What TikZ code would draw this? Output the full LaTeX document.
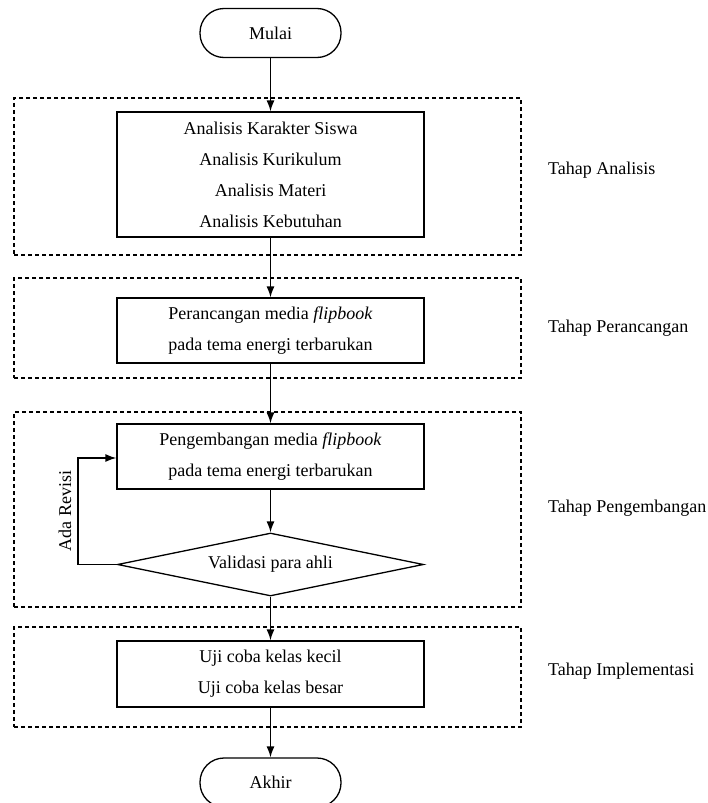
\documentclass[tikz,border=0pt]{standalone}
\usepackage{fontspec}
\setmainfont{Liberation Serif}
\usetikzlibrary{arrows.meta,shapes.geometric}
\begin{document}
\begin{tikzpicture}[x=1pt,y=-1pt,
  txt/.style={font=\fontsize{18}{31}\selectfont},
  procbox/.style={draw,line width=1.3pt,minimum width=307pt,inner sep=0pt,align=center,txt},
  termbox/.style={draw,line width=1.3pt,rounded corners=24pt,minimum width=141pt,minimum height=49pt,inner sep=0pt,txt},
  phasebox/.style={draw,line width=1.2pt,dash pattern=on 4pt off 3pt,minimum width=507pt,inner sep=0pt},
  phaselabel/.style={anchor=west,inner sep=0pt,txt},
  flow/.style={line width=1.4pt,-{Latex[length=11pt,width=8pt]}}]
\useasboundingbox (0,0) rectangle (708,803);
% phase frames
\node[phasebox,minimum height=157pt] (p1) at (267.5,176.5) {};
\node[phasebox,minimum height=100pt] (p2) at (267.5,328) {};
\node[phasebox,minimum height=195pt] (p3) at (267.5,509.5) {};
\node[phasebox,minimum height=100pt] (p4) at (267.5,677) {};
% terminals
\node[termbox] (start) at (270.5,33) {Mulai};
\node[termbox] (end) at (270.5,782.5) {Akhir};
% process boxes
\node[procbox,minimum height=125pt] (b1) at (270.5,174.5) {Analisis Karakter Siswa\\Analisis Kurikulum\\Analisis Materi\\Analisis Kebutuhan};
\node[procbox,minimum height=65pt] (b2) at (270.5,330.5) {Perancangan media \textit{flipbook}\\pada tema energi terbarukan};
\node[procbox,minimum height=65pt] (b3) at (270.5,456.5) {Pengembangan media \textit{flipbook}\\pada tema energi terbarukan};
\node[draw,line width=1.3pt,diamond,aspect=4.86,minimum width=306pt,minimum height=63pt,inner sep=0pt,txt] (d) at (270.5,564.5) {Validasi para ahli};
\node[procbox,minimum height=66pt] (b4) at (270.5,674) {Uji coba kelas kecil\\Uji coba kelas besar};
% labels
\node[phaselabel] (l1) at (548,170) {Tahap Analisis};
\node[phaselabel] (l2) at (548,328) {Tahap Perancangan};
\node[phaselabel] (l3) at (548,508) {Tahap Pengembangan};
\node[phaselabel] (l4) at (548,671) {Tahap Implementasi};
\node[txt,rotate=90,inner sep=0pt] (rev) at (65,511) {Ada Revisi};
% connectors
\draw[flow] (start.south) -- (b1.north);
\draw[flow] (b1.south) -- (b2.north);
\draw[flow] (b2.south) -- (b3.north);
\draw[flow] (b3.south) -- (d.north);
\draw[flow] (d.south) -- (b4.north);
\draw[flow] (b4.south) -- (end.north);
\coordinate (lb) at (78,564.5);
\coordinate (lt) at (78,458);
\draw[flow] (d.west) -- (lb) -- (lt) -- (lt -| b3.west);
\end{tikzpicture}
\end{document}
